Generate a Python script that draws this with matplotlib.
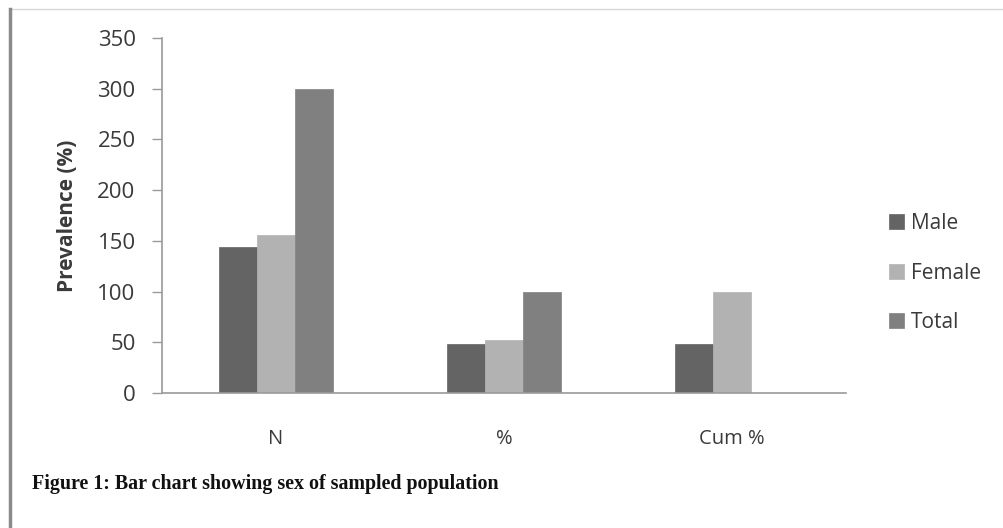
import matplotlib
matplotlib.use("Agg")
import matplotlib.pyplot as plt
import numpy as np
from matplotlib.lines import Line2D

categories = ["N", "%", "Cum %"]
series_names = ["Male", "Female", "Total"]
male = [144, 48, 48]
female = [156, 52, 100]
total = [300, 100, 0]
yticks = [0, 50, 100, 150, 200, 250, 300, 350]

colors = ["#646464", "#b2b2b2", "#808080"]
text_color = "#3a3a3a"
axis_color = "#9a9a9a"

plt.rcParams["font.family"] = ["Open Sans", "DejaVu Sans"]

fig = plt.figure(figsize=(10.04, 5.28), dpi=100)
ax = fig.add_axes([162 / 1004, 1 - 393 / 528, (846 - 162) / 1004, (393 - 38) / 528])

x = np.arange(len(categories))
width = 1 / 6
for i, (name, vals) in enumerate(zip(series_names, [male, female, total])):
    ax.bar(x + (i - 1) * width, vals, width, color=colors[i], label=name,
           edgecolor=colors[i], linewidth=0.5)

ax.set_xlim(-0.5, len(categories) - 0.5)
ax.set_ylim(0, 350)
ax.set_yticks(yticks)
ax.set_xticks(x)
ax.set_xticklabels(categories)
ax.tick_params(axis="x", length=0, pad=26, labelsize=14.5, labelcolor=text_color)
ax.tick_params(axis="y", length=7, width=1, color=axis_color, pad=12,
               labelsize=16, labelcolor=text_color)
for side in ["top", "right"]:
    ax.spines[side].set_visible(False)
for side in ["left", "bottom"]:
    ax.spines[side].set_color(axis_color)
    ax.spines[side].set_linewidth(1.2)

ax.set_ylabel("Prevalence (%)", fontsize=15, fontweight="bold", color=text_color,
              labelpad=14)

leg = ax.legend(loc="center left", bbox_to_anchor=(1.035, 0.338), frameon=False,
                fontsize=15, handlelength=0.75, handleheight=0.75,
                handletextpad=0.3, labelspacing=1.37, labelcolor=text_color)

fig.text(32 / 1004, 1 - 484 / 528, "Figure 1: Bar chart showing sex of sampled population",
         family=["Liberation Serif"], fontweight="bold", fontsize=14.4,
         va="center", ha="left", color="#111111")

# frame lines along the top and left edges
fig.add_artist(Line2D([10 / 1004, 1], [1 - 9 / 528, 1 - 9 / 528],
                      transform=fig.transFigure, color="#d8d8d8", linewidth=1))
fig.add_artist(Line2D([10 / 1004, 10 / 1004], [0, 1 - 9 / 528],
                      transform=fig.transFigure, color="#8a8a8a", linewidth=2.5))

fig.savefig("out.png", dpi=100)
